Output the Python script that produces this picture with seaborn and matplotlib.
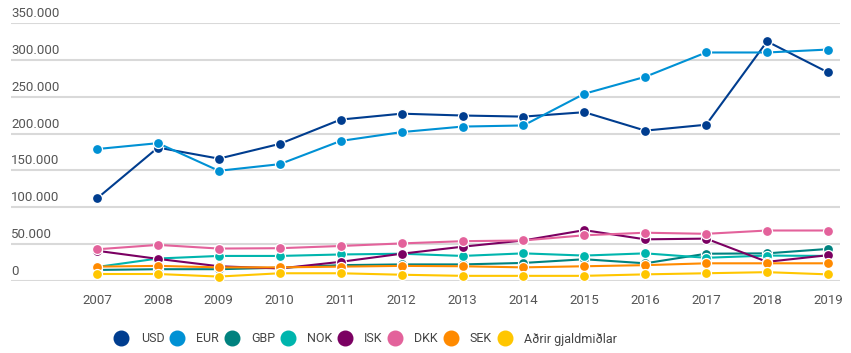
import matplotlib
matplotlib.use("Agg")
import matplotlib.pyplot as plt
import matplotlib.transforms as mtransforms
from matplotlib.lines import Line2D
import pandas as pd
import seaborn as sns

years = list(range(2007, 2020))
currencies = ["USD", "EUR", "GBP", "NOK", "ISK", "DKK", "SEK", "Aðrir gjaldmiðlar"]

usd = [112000, 181000, 166000, 186000, 219000, 227000, 224500, 223000, 229000, 204000, 212000, 325000, 283000]
eur = [179000, 187000, 149500, 158500, 190000, 202000, 209500, 211000, 254000, 277000, 310000, 310000, 314000]
gbp = [15000, 16000, 16000, 18000, 21500, 22500, 22500, 24500, 29500, 24000, 37000, 37500, 43500]
nok = [19000, 30500, 34000, 34000, 36000, 37000, 34000, 37500, 34500, 37500, 31500, 34500, 34000]
isk = [41000, 30000, 20000, 17000, 26000, 37000, 46500, 55000, 69000, 56500, 57500, 26000, 35000]
dkk = [43000, 49000, 44000, 44500, 47500, 51000, 54000, 55000, 62000, 65500, 64000, 68500, 68500]
sek = [19500, 20500, 18500, 18500, 19500, 20500, 20000, 18500, 20000, 21500, 24000, 24000, 24000]
adrir = [9500, 9500, 6000, 10500, 10500, 8500, 7000, 7000, 7000, 9000, 10500, 12000, 9000]

series = [usd, eur, gbp, nok, isk, dkk, sek, adrir]
colors = ["#003d8f", "#0091d4", "#00827f", "#00b5ad", "#7b0062", "#e3629b", "#ff8a00", "#ffc600"]
y_ticks = [0, 50000, 100000, 150000, 200000, 250000, 300000, 350000]

df = pd.DataFrame(
    [(y, c, v) for c, vals in zip(currencies, series) for y, v in zip(years, vals)],
    columns=["year", "currency", "value"],
)

sns.set_theme(style="white")
plt.rcParams["font.family"] = ["Roboto", "DejaVu Sans"]

fig = plt.figure(figsize=(8.51, 3.53), dpi=100)
ax = fig.add_axes([11 / 851, 1 - 281 / 353, (840 - 11) / 851, (281 - 23) / 353])

for yt in y_ticks:
    ax.axhline(yt, color="#d9d9d9", lw=1.5, zorder=0)

sns.lineplot(
    data=df, x="year", y="value", hue="currency", hue_order=currencies,
    palette=colors, marker="o", markersize=7.2, markeredgecolor="white",
    markeredgewidth=0.9, linewidth=1.5, dashes=False, legend=False, ax=ax,
    clip_on=False,
)

ax.set_xlim(2007 - 86 / 60.9, 2019 + 12 / 60.9)
ax.set_ylim(0, 350000)
ax.set_xticks(years)
ax.set_xticklabels([str(y) for y in years])
ax.set_yticks([])
ax.tick_params(axis="x", length=0, pad=9, labelsize=9.5, labelcolor="#555555")
ax.set_xlabel("")
ax.set_ylabel("")
for s in ax.spines.values():
    s.set_visible(False)

# value labels sit just above each gridline at the left edge
offset = mtransforms.offset_copy(ax.transData, fig=fig, x=0, y=3, units="dots")
trans = mtransforms.blended_transform_factory(ax.transAxes, offset)
for yt in y_ticks:
    label = f"{yt:,}".replace(",", ".")
    ax.text(0, yt, label, transform=trans, ha="left", va="bottom",
            fontsize=9.5, color="#555555")

handles = [
    Line2D([], [], linestyle="none", marker="o", markersize=10.5,
           markerfacecolor=c, markeredgecolor=c)
    for c in colors
]
fig.legend(
    handles, currencies, loc="center", bbox_to_anchor=(366 / 851, 1 - 339 / 353),
    ncol=8, frameon=False, fontsize=9, labelcolor="#444444",
    handletextpad=1.05, columnspacing=0.5, handlelength=1.0,
)

fig.savefig("out.png", dpi=100)
